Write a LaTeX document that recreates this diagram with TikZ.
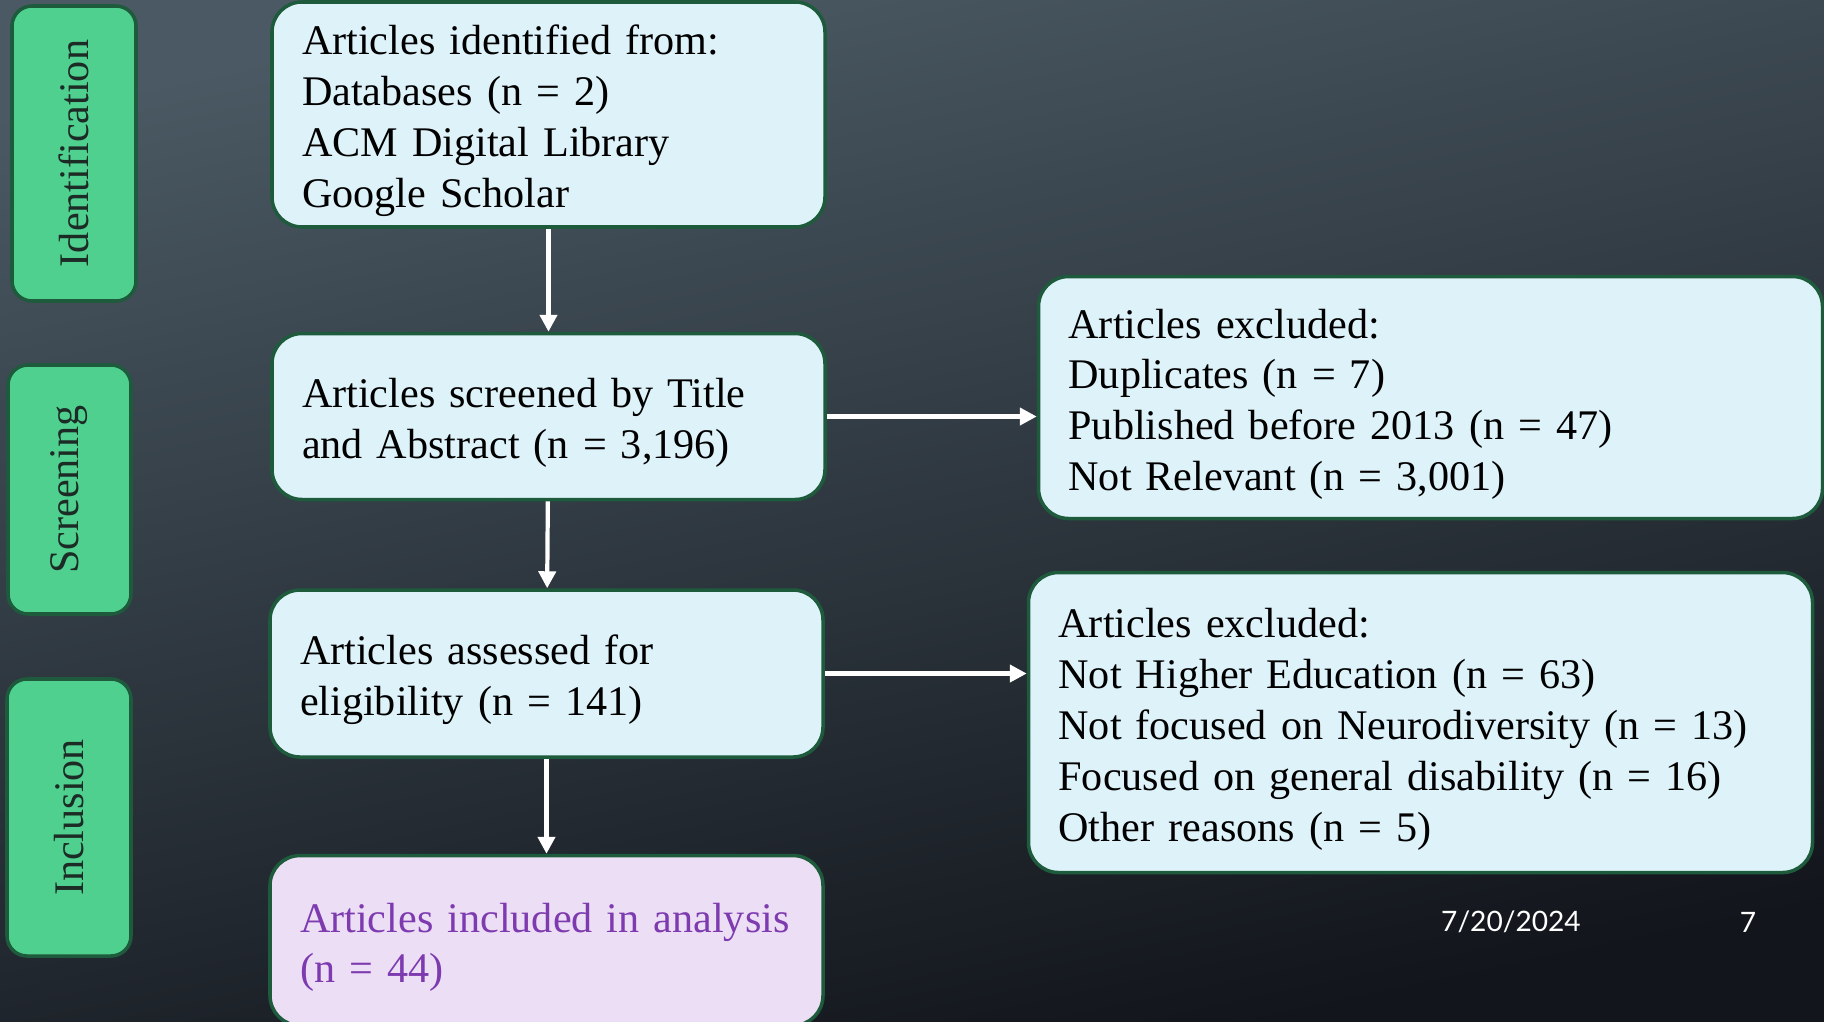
\documentclass[tikz,border=0pt]{standalone}
\usepackage{fontspec}
\setmainfont{Liberation Serif}[WordSpace=0.8]
\newfontfamily\footfont{Lato}
\usetikzlibrary{positioning,calc,arrows.meta}

\definecolor{bgtop}{HTML}{4A5963}
\definecolor{bgbot}{HTML}{12151B}
\definecolor{tabgreen}{HTML}{4FD08F}
\definecolor{tabedge}{HTML}{1E5A3C}
\definecolor{tabtext}{HTML}{1C2B25}
\definecolor{boxblue}{HTML}{DEF2F9}
\definecolor{boxpurple}{HTML}{ECDFF5}
\definecolor{txtpurple}{HTML}{7E3BB0}

\begin{document}
\begin{tikzpicture}[
    font=\fontsize{12}{14.5}\selectfont,
    tab/.style={draw=tabedge, line width=1pt, fill=tabgreen, rounded corners=0.2cm, inner sep=0pt, text=tabtext, rotate=90},
    box/.style={draw=tabedge, line width=1pt, fill=boxblue, rounded corners=0.3cm, align=left, inner xsep=0.3cm, inner ysep=0pt, text width=4.93cm, execute at begin node={\rule{0pt}{12.2pt}}},
    wide/.style={box, text width=7.24cm},
    flow/.style={draw=white, line width=1.2pt, -{Triangle[length=1.7mm, width=1.7mm]}}
]

% slide background
\useasboundingbox (0,0) rectangle (18.24,10.21);
\shade[top color=bgtop, bottom color=bgbot, shading angle=12] (0,0) rectangle (18.24,10.21);

% phase tabs
\node[tab, minimum width=2.95cm, minimum height=1.24cm] (tabid) at (0.74,8.675) {Identification};
\node[tab, minimum width=2.49cm, minimum height=1.23cm] (tabscr) at (0.695,5.315) {Screening};
\node[tab, minimum width=2.77cm, minimum height=1.24cm] (tabinc) at (0.69,2.035) {Inclusion};

% main column
\node[box, minimum height=2.25cm] (ident) at (5.485,9.065) {Articles identified from:\\Databases (n = 2)\\ACM Digital Library\\Google Scholar};
\node[box, minimum height=1.66cm, below=1.03cm of ident] (screen) {Articles screened by Title\\and Abstract (n = 3,196)};
\node[box, minimum height=1.67cm, below=0.87cm of screen, xshift=-0.02cm] (assess) {Articles assessed for\\eligibility (n = 141)};
\node[box, minimum height=1.70cm, below=0.95cm of assess, fill=boxpurple, text=txtpurple] (incl) {Articles included in analysis\\(n = 44)};

% exclusions
\node[wide, minimum height=2.42cm, right=2.10cm of screen, yshift=0.19cm] (excla) {Articles excluded:\\Duplicates (n = 7)\\Published before 2013 (n = 47)\\Not Relevant (n = 3,001)};
\node[wide, minimum height=3.00cm, right=2.02cm of assess, yshift=-0.49cm] (exclb) {Articles excluded:\\Not Higher Education (n = 63)\\Not focused on Neurodiversity (n = 13)\\Focused on general disability (n = 16)\\Other reasons (n = 5)};

\draw[flow] (ident) -- (screen);
\draw[flow] (screen) -- (assess);
\draw[flow] (assess) -- (incl);
\draw[flow] (screen.east) -- (screen.east -| excla.west);
\draw[flow] (assess.east) -- (assess.east -| exclb.west);

% footer
\node[font=\footfont\fontsize{8}{9}\selectfont, text=white] (date) at (15.11,0.99) {7/20/2024};
\node[font=\footfont\fontsize{8}{9}\selectfont, text=white] (pagenum) at (17.48,0.99) {7};

\end{tikzpicture}
\end{document}
